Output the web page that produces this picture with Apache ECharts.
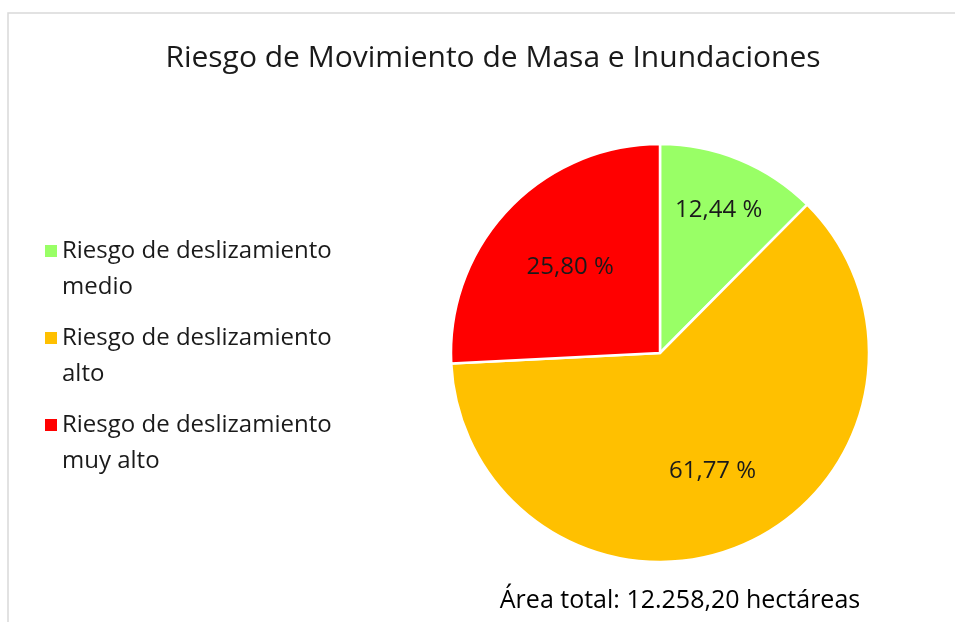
<!DOCTYPE html>
<html>
<head>
<meta charset="utf-8">
<script src="https://cdn.jsdelivr.net/npm/echarts@6/dist/echarts.min.js"></script>
<style>
  html, body { margin: 0; padding: 0; background: #fff; }
  #main { width: 955px; height: 622px; }
</style>
</head>
<body>
<div id="main"></div>
<script>
const categories = [
  'Riesgo de deslizamiento medio',
  'Riesgo de deslizamiento alto',
  'Riesgo de deslizamiento muy alto'
];
const values = [12.44, 61.77, 25.80];
const colors = ['#99FF66', '#FFC000', '#FF0000'];
const totalText = 'Área total: 12.258,20 hectáreas';

// outer radius of the transparent helper pie used to place each slice's label
const labelRadius = [302, 252, 242];

const font = '"Open Sans", "Noto Sans", sans-serif';
const chart = echarts.init(document.getElementById('main'));

const pieData = categories.map((name, i) => ({
  name: name,
  value: values[i],
  itemStyle: { color: colors[i] }
}));

// one transparent pie per label, showing only its own slice's label
const labelSeries = labelRadius.map((r, k) => ({
  type: 'pie',
  center: [660, 353],
  radius: [0, r],
  startAngle: 90,
  clockwise: true,
  silent: true,
  itemStyle: { color: 'rgba(0,0,0,0)', borderWidth: 0 },
  label: {
    show: true,
    position: 'inside',
    fontFamily: font,
    fontSize: 24,
    color: '#1a1a1a',
    formatter: p => p.value.toFixed(2).replace('.', ',') + ' %'
  },
  labelLine: { show: false },
  data: categories.map((name, i) => ({
    name: name,
    value: values[i],
    label: { show: i === k }
  }))
}));

const option = {
  backgroundColor: '#fff',
  animation: false,
  title: [
    {
      text: 'Riesgo de Movimiento de Masa e Inundaciones',
      left: 488,
      top: 38,
      textAlign: 'center',
      textStyle: { fontFamily: font, fontSize: 30, fontWeight: 'normal', color: '#1a1a1a' }
    },
    {
      text: totalText,
      left: 675,
      top: 583,
      textAlign: 'center',
      textStyle: { fontFamily: font, fontSize: 25, fontWeight: 'normal', color: '#000' }
    }
  ],
  graphic: [
    {
      type: 'rect',
      shape: { x: 8, y: 13, width: 1000, height: 700 },
      style: { fill: 'none', stroke: '#d9d9d9', lineWidth: 1.5 },
      silent: true
    }
  ],
  legend: {
    orient: 'vertical',
    left: 40,
    top: 228,
    itemWidth: 12,
    itemHeight: 48,
    itemGap: 15,
    icon: 'path://M0,0h12v12h-12Z M0,48L0.001,48',
    itemStyle: { borderWidth: 0 },
    data: categories,
    formatter: name => name.replace(' deslizamiento ', ' deslizamiento\n'),
    textStyle: { fontFamily: font, fontSize: 24, lineHeight: 36, color: '#1a1a1a' }
  },
  series: [
    {
      type: 'pie',
      center: [660, 353],
      radius: [0, 209],
      startAngle: 90,
      clockwise: true,
      label: { show: false },
      labelLine: { show: false },
      itemStyle: { borderColor: '#fff', borderWidth: 2.5 },
      data: pieData
    }
  ].concat(labelSeries)
};

chart.setOption(option);
</script>
</body>
</html>
